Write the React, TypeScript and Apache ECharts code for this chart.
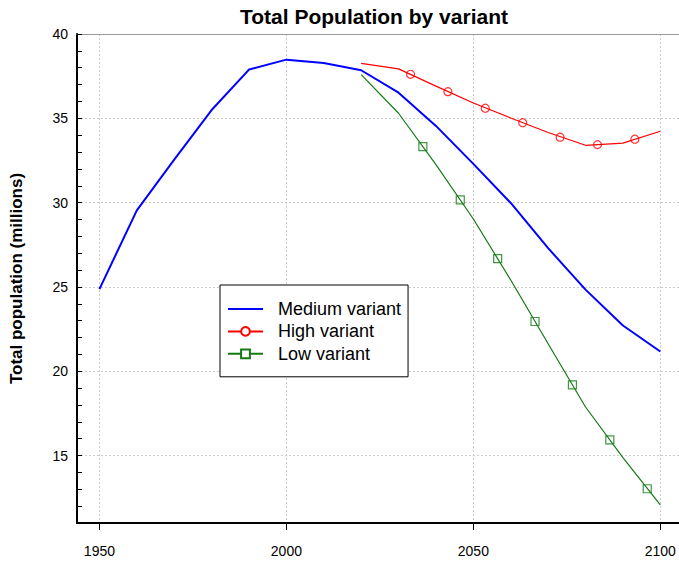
import React, { useEffect, useRef } from "react";
import * as echarts from "echarts";

const years = [1950, 1960, 1970, 1980, 1990, 2000, 2010, 2020, 2030, 2040, 2050, 2060, 2070, 2080, 2090, 2100];
const medium = [24.87, 29.54, 32.55, 35.49, 37.89, 38.48, 38.28, 37.85, 36.52, 34.55, 32.3, 29.98, 27.3, 24.84, 22.71, 21.17];

const projYears = [2020, 2030, 2040, 2050, 2060, 2070, 2080, 2090, 2100];
const high = [38.26, 37.93, 36.91, 35.91, 35.02, 34.16, 33.4, 33.53, 34.23];
const low = [37.59, 35.3, 32.25, 29.03, 25.41, 21.63, 17.88, 14.88, 12.08];

const highMarkerYears = [2033.2, 2043.2, 2053.2, 2063.2, 2073.2, 2083.2, 2093.2];
const highMarkers = [37.61, 36.58, 35.6, 34.74, 33.88, 33.44, 33.76];
const lowMarkerYears = [2036.5, 2046.5, 2056.5, 2066.5, 2076.5, 2086.5, 2096.5];
const lowMarkers = [33.32, 30.16, 26.68, 22.95, 19.19, 15.93, 13.03];

const xTicks = [1950, 2000, 2050, 2100];
const yLabels = [15, 20, 25, 30, 35, 40];
const yMinorTicks = [11, 12, 13, 14, 15, 16, 17, 18, 19, 20, 21, 22, 23, 24, 25, 26, 27, 28, 29, 30, 31, 32, 33, 34, 35, 36, 37, 38, 39, 40];

const FONT = "'Liberation Sans', Arial, sans-serif";

export default function App() {
  const ref = useRef<HTMLDivElement>(null);
  useEffect(() => {
    document.body.style.margin = "0";
    if (!ref.current) return;
    const chart = echarts.init(ref.current, undefined, { renderer: "svg" });
    const zip = (xs: number[], ys: number[]) => xs.map((x, i) => [x, ys[i]]);
    chart.setOption({
      animation: false,
      backgroundColor: "#fff",
      textStyle: { fontFamily: FONT },
      title: {
        text: "Total Population by variant",
        left: 240,
        top: 6,
        padding: 0,
        textStyle: { fontFamily: FONT, fontSize: 21, fontWeight: "bold", color: "#000" },
      },
      grid: { left: 77, top: 34, right: 0, bottom: 40, containLabel: false },
      legend: {
        data: [
          { name: "Medium variant", icon: "path://M0,0H35V2H0Z" },
          { name: "High variant" },
          { name: "Low variant" },
        ],
        orient: "vertical",
        left: 220,
        top: 285,
        padding: [15, 7, 14, 7],
        itemWidth: 35,
        itemHeight: 11,
        itemGap: 4.4,
        symbolKeepAspect: true,
        borderColor: "#000",
        borderWidth: 1,
        backgroundColor: "#fff",
        selectedMode: false,
        itemStyle: { borderWidth: 1.2 },
        textStyle: { fontFamily: FONT, fontSize: 18, lineHeight: 18, color: "#000", padding: [0, 0, 0, 10] },
      },
      xAxis: [
        {
          type: "value",
          min: 1944,
          max: 2105,
          axisLine: { show: true, onZero: false, lineStyle: { color: "#000", width: 2 } },
          axisTick: { show: true, inside: false, length: 7, customValues: xTicks, lineStyle: { color: "#000", width: 1 } },
          axisLabel: { customValues: xTicks, margin: 21, fontSize: 14, color: "#000", fontFamily: FONT, formatter: (v: number) => String(v) },
          splitLine: { show: true, lineStyle: { color: "#ccc", type: [2, 2], width: 1 } },
        },
        {
          type: "value",
          position: "top",
          min: 1944,
          max: 2105,
          axisLine: { show: true, onZero: false, lineStyle: { color: "#999", width: 1 } },
          axisTick: { show: false },
          axisLabel: { show: false },
          splitLine: { show: false },
        },
      ],
      yAxis: [
        {
          type: "value",
          min: 11,
          max: 40,
          name: "Total population (millions)",
          nameLocation: "middle",
          nameGap: 52,
          nameTextStyle: { fontFamily: FONT, fontSize: 17, fontWeight: "bold", color: "#000" },
          axisLine: { show: true, onZero: false, lineStyle: { color: "#000", width: 2 } },
          axisTick: { show: true, inside: true, length: 5, customValues: yMinorTicks, lineStyle: { color: "#000", width: 1 } },
          axisLabel: { customValues: yLabels, margin: 9, fontSize: 14, color: "#000", fontFamily: FONT },
          splitLine: { show: false },
        },
        {
          type: "value",
          min: 11,
          max: 40,
          axisLine: { show: false },
          axisTick: { show: false, customValues: yLabels },
          axisLabel: { show: false },
          splitLine: { show: true, lineStyle: { color: "#ccc", type: [2, 2], width: 1 } },
        },
      ],
      series: [
        {
          name: "Medium variant",
          type: "line",
          data: zip(years, medium),
          symbol: "none",
          lineStyle: { color: "#0000ff", width: 2 },
          itemStyle: { color: "#0000ff" },
          z: 3,
        },
        {
          name: "High variant",
          type: "line",
          data: zip(projYears, high),
          symbol: "emptyCircle",
          symbolSize: 8,
          showSymbol: false,
          lineStyle: { color: "#ff0000", width: 1.2 },
          itemStyle: { color: "#ff0000" },
          z: 3,
        },
        {
          name: "Low variant",
          type: "line",
          data: zip(projYears, low),
          symbol: "emptyRect",
          symbolSize: 8,
          showSymbol: false,
          lineStyle: { color: "#137a13", width: 1.2 },
          itemStyle: { color: "#137a13" },
          z: 3,
        },
        {
          name: "High variant",
          type: "scatter",
          data: zip(highMarkerYears, highMarkers),
          symbol: "circle",
          symbolSize: 8,
          itemStyle: { color: "transparent", borderColor: "#ff0000", borderWidth: 1.2 },
          z: 4,
        },
        {
          name: "Low variant",
          type: "scatter",
          data: zip(lowMarkerYears, lowMarkers),
          symbol: "rect",
          symbolSize: 8,
          itemStyle: { color: "transparent", borderColor: "#137a13", borderWidth: 1.2 },
          z: 4,
        },
      ],
    });
    return () => chart.dispose();
  }, []);
  return <div ref={ref} style={{ width: 679, height: 563 }} />;
}
